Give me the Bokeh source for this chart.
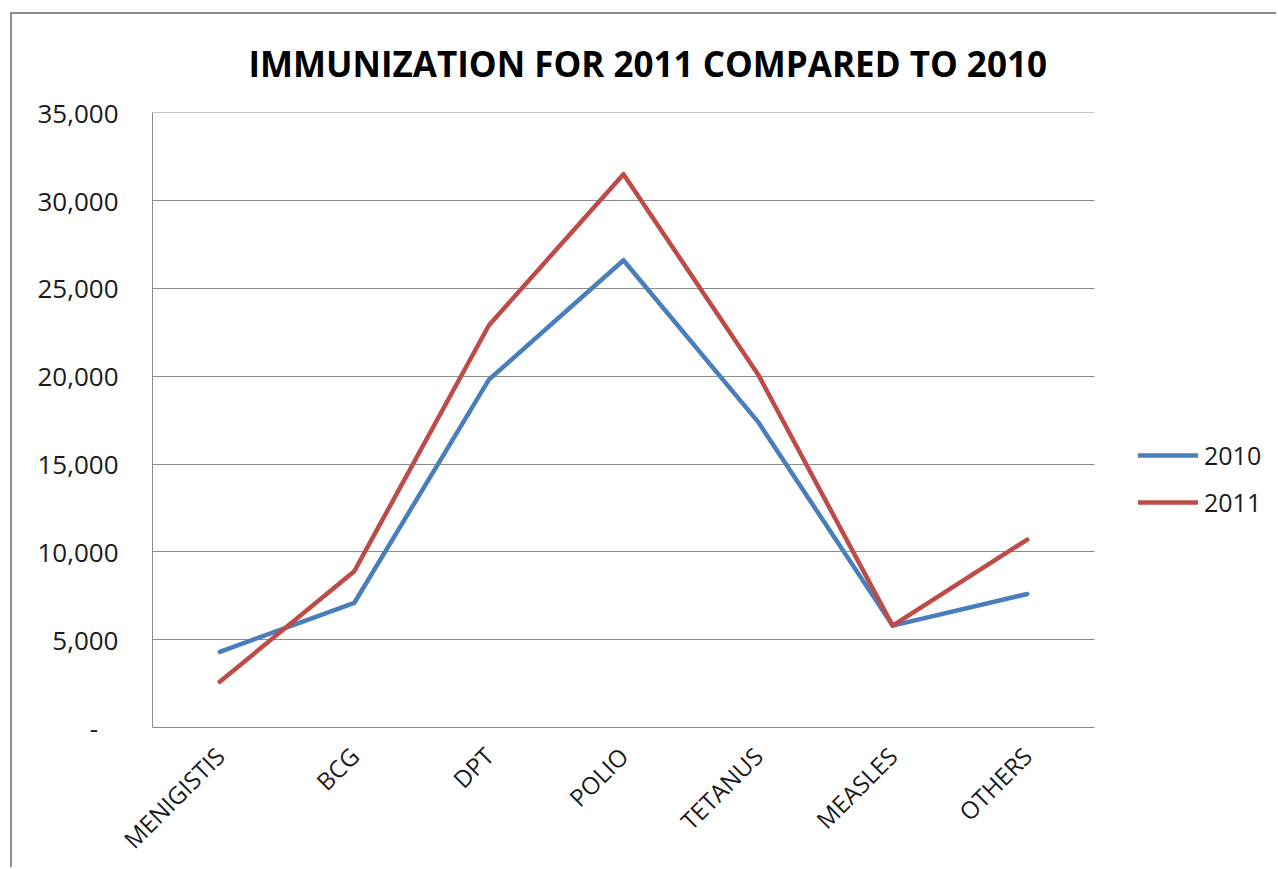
from bokeh.plotting import figure
from bokeh.models import (FixedTicker, NumeralTickFormatter, Legend, LegendItem,
                          Range1d, BoxAnnotation)
from bokeh.embed import file_html
from bokeh.resources import INLINE
import math

categories = ["MENIGISTIS", "BCG", "DPT", "POLIO", "TETANUS", "MEASLES", "OTHERS"]
values_2010 = [4300, 7100, 19800, 26600, 17400, 5800, 7600]
values_2011 = [2600, 8900, 22900, 31500, 20100, 5800, 10700]
y_ticks = [0, 5000, 10000, 15000, 20000, 25000, 30000, 35000]
title_text = "IMMUNIZATION FOR 2011 COMPARED TO 2010"

FONT = "Open Sans"

# category slots: item i sits in the middle of slot i
x_pos = [i + 0.5 for i in range(len(categories))]
n_cat = len(categories)

# layout in pixels
canvas_w, canvas_h = 1266, 855
left_b, top_b, bottom_b, right_b = 140, 98, 142, 8
frame_w = canvas_w - left_b - right_b
plot_w = 942  # visible plotting area width
x_end = n_cat * frame_w / plot_w
y_top = y_ticks[-1] * 1.0003  # tiny headroom so the top gridline is drawn

p = figure(
    x_range=Range1d(0, x_end), y_range=Range1d(0, y_top),
    width=canvas_w, height=canvas_h,
    min_border_left=left_b, min_border_right=right_b, min_border_top=top_b, min_border_bottom=bottom_b,
    output_backend="svg", toolbar_location=None,
    title=title_text,
)
p.styles = {"margin-left": "10px", "margin-top": "12px",
            "border-left": "2px solid #8c8c8c", "border-top": "2px solid #8c8c8c"}

p.title.text_font = FONT
p.title.text_font_size = "35px"
p.title.text_font_style = "bold"
p.title.text_color = "#000000"
p.title.align = "left"
p.title.offset = 96
p.title.standoff = 48
p.title.vertical_align = "top"

p.outline_line_color = None
p.background_fill_color = "white"
p.border_fill_color = "white"

p.xgrid.grid_line_color = None
p.ygrid.grid_line_color = "#8c8c8c"
p.ygrid.grid_line_width = 1
try:
    p.ygrid.cross_bounds = (0, n_cat)
except Exception:
    p.add_layout(BoxAnnotation(left=n_cat, fill_color="white", fill_alpha=1.0,
                               line_alpha=0, level="underlay"))

r1 = p.line(x_pos, values_2010, line_color="#4A7EBB", line_width=4.5, line_join="round", line_cap="round")
r2 = p.line(x_pos, values_2011, line_color="#BE4B48", line_width=4.5, line_join="round", line_cap="round")

# axes
p.yaxis.ticker = FixedTicker(ticks=y_ticks)
p.yaxis.formatter = NumeralTickFormatter(format="0,0")
p.yaxis.major_label_overrides = {0: "-\u00a0\u00a0\u00a0"}
p.yaxis.major_tick_line_color = None
p.yaxis.minor_tick_line_color = None
p.yaxis.axis_line_color = "#8c8c8c"
p.yaxis.major_label_standoff = 28
p.yaxis.major_label_text_font = FONT
p.yaxis.major_label_text_font_size = "26px"
p.yaxis.major_label_text_color = "#1a1a1a"

p.xaxis.ticker = FixedTicker(ticks=x_pos)
p.xaxis.major_label_overrides = {x: c for x, c in zip(x_pos, categories)}
p.xaxis.bounds = (0, n_cat)
p.xaxis.major_tick_line_color = None
p.xaxis.minor_tick_line_color = None
p.xaxis.axis_line_color = "#8c8c8c"
p.xaxis.major_label_orientation = math.pi / 4
p.xaxis.major_label_standoff = 18
p.xaxis.major_label_text_font = FONT
p.xaxis.major_label_text_font_size = "24px"
p.xaxis.major_label_text_color = "#1a1a1a"

legend = Legend(
    items=[LegendItem(label="2010", renderers=[r1]), LegendItem(label="2011", renderers=[r2])],
    location=(986, 205),
    padding=0, margin=0, spacing=7,
    glyph_width=60, glyph_height=40, label_height=40, label_standoff=6,
    label_text_font=FONT, label_text_font_size="25px", label_text_color="#1a1a1a",
    border_line_color=None, background_fill_alpha=0,
)
p.add_layout(legend, "center")

open("out.html", "w").write(file_html(p, INLINE))
